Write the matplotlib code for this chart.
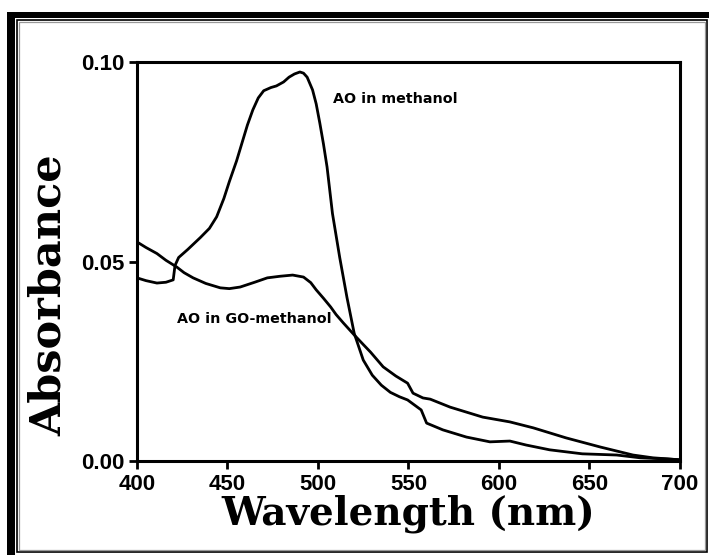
import numpy as np
import matplotlib.pyplot as plt
from matplotlib.patches import Rectangle

# Absorption spectra of acridine orange (AO)
wl_meoh = [400, 405, 411, 416, 420, 421, 423, 428, 435, 440, 444, 448, 451, 455,
           458, 461, 464, 467, 470, 474, 477, 481, 484, 487, 490, 492, 494, 497,
           499, 501, 503, 505, 508, 512, 516, 520, 525, 530, 535, 540, 545,
           549.5, 557, 560, 569, 582, 595, 606, 615, 628, 646, 665, 678, 693, 700]
abs_meoh = [0.0459, 0.0452, 0.0446, 0.0448, 0.0454, 0.0490, 0.0510, 0.0530,
            0.0560, 0.0583, 0.0612, 0.0658, 0.0700, 0.0752, 0.0797, 0.0842,
            0.0880, 0.0910, 0.0928, 0.0936, 0.0940, 0.0950, 0.0962, 0.0970,
            0.0975, 0.0972, 0.0962, 0.0930, 0.0895, 0.0847, 0.0795, 0.0737,
            0.0620, 0.0510, 0.0410, 0.0320, 0.0253, 0.0215, 0.0190, 0.0172,
            0.0161, 0.0153, 0.0128, 0.0095, 0.0078, 0.0060, 0.0048, 0.0050,
            0.0040, 0.0028, 0.0018, 0.0015, 0.0008, 0.0005, 0.0003]

wl_go = [400, 405, 411, 416, 422, 426, 431, 438, 446, 451, 457, 465, 472, 479,
         486, 492, 496, 499, 503, 507, 510, 514, 520, 525, 529, 536, 543,
         549.5, 552.5, 558, 562, 573, 591, 606, 619, 637, 656, 674, 685, 700]
abs_go = [0.0549, 0.0535, 0.0520, 0.0503, 0.0486, 0.0472, 0.0459, 0.0445,
          0.0434, 0.0432, 0.0436, 0.0448, 0.0459, 0.0463, 0.0466, 0.0461,
          0.0447, 0.0429, 0.0408, 0.0386, 0.0367, 0.0346, 0.0316, 0.0292,
          0.0273, 0.0236, 0.0213, 0.0195, 0.0170, 0.0158, 0.0155, 0.0135,
          0.0110, 0.0098, 0.0083, 0.0058, 0.0035, 0.0015, 0.0008, 0.0003]

xticks = [400, 450, 500, 550, 600, 650, 700]
yticks = [0.00, 0.05, 0.10]

W, H = 709, 555
fig = plt.figure(figsize=(W / 100, H / 100), dpi=100)
ax = fig.add_axes([137 / W, 1 - 461 / H, 543 / W, 399 / H])

ax.plot(wl_meoh, abs_meoh, color='black', lw=2.0, solid_joinstyle='round')
ax.plot(wl_go, abs_go, color='black', lw=2.0, solid_joinstyle='round')

ax.set_xlim(400, 700)
ax.set_ylim(0, 0.10)
ax.set_xticks(xticks)
ax.set_yticks(yticks)
ax.set_yticklabels(['%.2f' % v for v in yticks])
for s in ax.spines.values():
    s.set_linewidth(2.2)
ax.tick_params(direction='out', length=5.5, width=2)
ax.tick_params(axis='x', pad=3.5)
ax.tick_params(axis='y', pad=3.5)
for lab in ax.get_xticklabels() + ax.get_yticklabels():
    lab.set_family('Liberation Sans')
    lab.set_weight('bold')
    lab.set_fontsize(16)

ax.set_xlabel('Wavelength (nm)', family='DejaVu Serif', weight='bold',
              fontsize=28)
ax.xaxis.set_label_coords(0.499, -0.133)
ax.xaxis.label.set_va('center')
ax.set_ylabel('Absorbance', family='DejaVu Serif', weight='bold',
              fontsize=31)
ax.yaxis.set_label_coords(-0.162, 0.416)
ax.yaxis.label.set_va('center')

ax.text(508.3, 0.0908, 'AO in methanol', family='DejaVu Sans',
        weight='bold', fontsize=10.3, va='center')
ax.text(422, 0.0356, 'AO in GO-methanol', family='DejaVu Sans',
        weight='bold', fontsize=10.3, va='center')


# frame around the figure, given in pixels from the top left corner
def box(x0, y0, x1, y1, **kw):
    fig.add_artist(Rectangle((x0 / W, 1 - y1 / H), (x1 - x0) / W, (y1 - y0) / H,
                             transform=fig.transFigure, **kw))


box(7, 12, W, 18, color='black', lw=0)
box(7, 12, 15, H, color='black', lw=0)
box(17, 20, 707, 552, fill=False, ec='black', lw=1.2)
box(19, 22, 705, 550, fill=False, ec='#999999', lw=0.9)

fig.savefig('out.png', dpi=100)
